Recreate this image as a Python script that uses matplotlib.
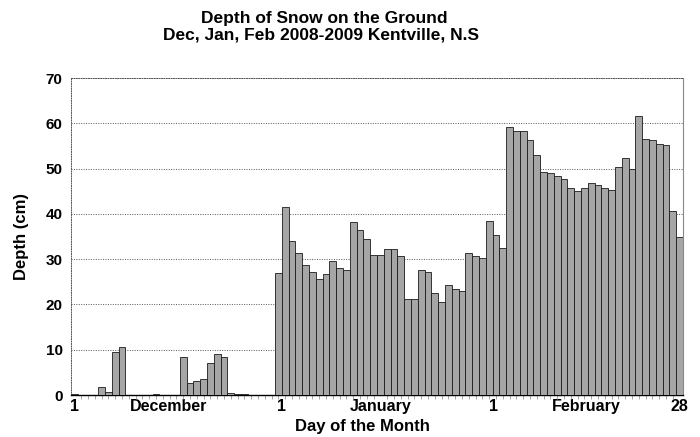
import matplotlib
matplotlib.use("Agg")
import matplotlib.pyplot as plt
import numpy as np

plt.rcParams['font.family'] = ['Liberation Sans', 'DejaVu Sans']
plt.rcParams['font.weight'] = 'bold'

dec_depth = [0.3, 0, 0, 0, 1.8, 0.7, 9.6, 10.5, 0, 0, 0, 0, 0.3, 0, 0, 0,
             8.4, 2.6, 3.0, 3.6, 7.1, 9.0, 8.5, 0.5, 0.3, 0.3, 0, 0, 0, 0, 27.0]
jan_depth = [41.6, 34.0, 31.3, 28.7, 27.2, 25.6, 26.7, 29.6, 28.1, 27.5,
             38.2, 36.5, 34.4, 30.9, 30.9, 32.3, 32.3, 30.7, 21.1, 21.2,
             27.5, 27.2, 22.6, 20.6, 24.3, 23.5, 23.0, 31.3, 30.6, 30.2, 38.5]
feb_depth = [35.4, 32.4, 59.2, 58.2, 58.3, 56.4, 53.0, 49.2, 49.0, 48.4,
             47.7, 45.7, 45.1, 45.7, 46.8, 46.3, 45.7, 45.3, 50.3, 52.3,
             49.9, 61.7, 56.5, 56.2, 55.5, 55.1, 40.7, 34.8]

tick_labels = ['1', 'December', '1', 'January', '1', 'February', '28']
y_ticks = [0, 10, 20, 30, 40, 50, 60, 70]

depth = dec_depth + jan_depth + feb_depth
x = np.arange(len(depth))
n_dec, n_jan = len(dec_depth), len(jan_depth)
tick_pos = [0, 13.8, n_dec - 0.5, n_dec + 14, n_dec + n_jan - 0.3, n_dec + n_jan + 13.3, len(depth) - 1]

fig = plt.figure(figsize=(7, 4.37), dpi=100)
ax = fig.add_axes([0.1014, 0.0961, 0.8743, 0.7254])

ax.bar(x, depth, width=1.0, color='#a6a6a6', edgecolor='#1a1a1a', linewidth=0.6, zorder=3)

ax.set_xlim(-0.5, len(depth) - 0.5)
ax.set_ylim(0, 70)
ax.set_yticks(y_ticks)
ax.set_yticklabels([str(v) for v in y_ticks], fontsize=11, fontweight='bold')
ax.set_xticks(tick_pos)
ax.set_xticklabels(tick_labels, fontsize=11.5, fontweight='bold')
ax.set_xticks(x, minor=True)
ax.tick_params(axis='x', which='major', length=0, pad=3)
ax.tick_params(axis='x', which='minor', length=3, color='#999999', width=0.6)
ax.tick_params(axis='y', which='major', length=0, pad=6)

ax.yaxis.grid(True, linestyle=(0, (1, 1.5)), color='#555555', linewidth=0.7, zorder=0)
for s in ['top', 'left']:
    ax.spines[s].set_linestyle((0, (1, 1.5)))
    ax.spines[s].set_color('#555555')
    ax.spines[s].set_linewidth(0.7)
ax.spines['right'].set_color('#888888')
ax.spines['right'].set_linewidth(0.8)
ax.spines['bottom'].set_color('black')
ax.spines['bottom'].set_linewidth(1.0)

fig.text(22 / 700, 1 - 237 / 437, 'Depth (cm)', rotation=90, ha='center', va='center',
         fontsize=12, fontweight='bold')
fig.text(362 / 700, 1 - 427 / 437, 'Day of the Month', ha='center', va='center',
         fontsize=12, fontweight='bold')
fig.text(324 / 700, 1 - 18 / 437, 'Depth of Snow on the Ground', ha='center', va='center',
         fontsize=12.5, fontweight='bold')
fig.text(321 / 700, 1 - 35 / 437, 'Dec, Jan, Feb 2008-2009 Kentville, N.S', ha='center', va='center',
         fontsize=12.5, fontweight='bold')

fig.savefig('out.png', dpi=100)
